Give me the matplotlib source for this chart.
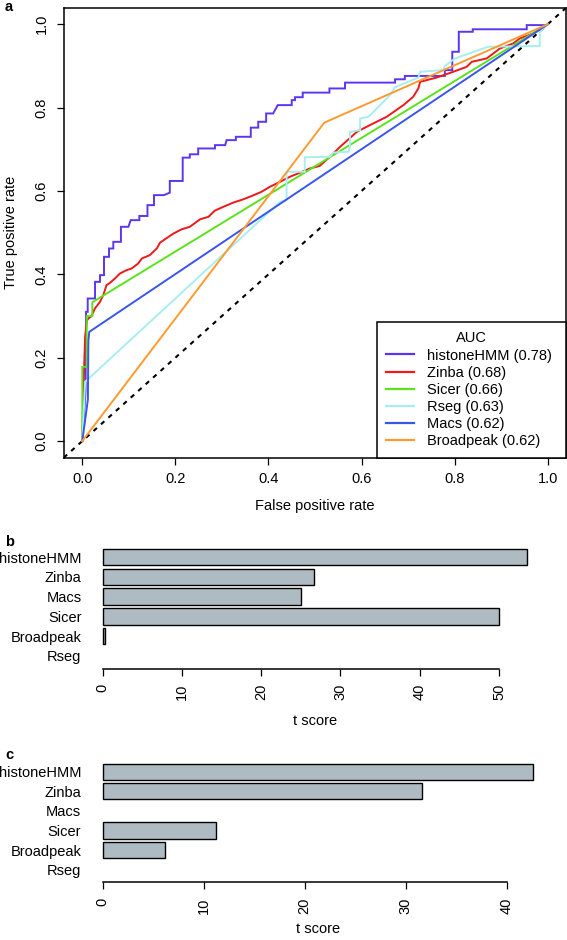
import matplotlib
matplotlib.use("Agg")
import matplotlib.pyplot as plt
from matplotlib.lines import Line2D

plt.rcParams['font.family'] = ['Liberation Sans', 'DejaVu Sans']
FS = 10.5

# ---------------- data ----------------
methods_roc = ["histoneHMM", "Zinba", "Sicer", "Rseg", "Macs", "Broadpeak"]
auc_values = [0.78, 0.68, 0.66, 0.63, 0.62, 0.62]
roc_colors = ["#5B36F2", "#F01818", "#5CE21C", "#A8EEF0", "#3A55EE", "#FF9A30"]

histone_fpr = [0, 0.007, 0.008, 0.0116, 0.0116, 0.0273, 0.0273, 0.038, 0.038, 0.0466, 0.0466, 0.0574,
               0.0574, 0.0666, 0.0666, 0.083, 0.083, 0.099, 0.104, 0.1225, 0.1225, 0.14, 0.14, 0.154,
               0.154, 0.1755, 0.188, 0.188, 0.2157, 0.2157, 0.231, 0.231, 0.249, 0.249, 0.285, 0.285,
               0.307, 0.31, 0.33, 0.33, 0.362, 0.362, 0.378, 0.378, 0.395, 0.395, 0.41, 0.42, 0.45,
               0.45, 0.457, 0.457, 0.4736, 0.4736, 0.531, 0.531, 0.5645, 0.5645, 0.672, 0.672, 0.693,
               0.693, 0.779, 0.779, 0.795, 0.795, 0.809, 0.809, 0.839, 0.839, 0.955, 0.955, 0.998, 1.0]
histone_tpr = [0, 0.12, 0.31, 0.31, 0.342, 0.342, 0.382, 0.382, 0.398, 0.398, 0.442, 0.442,
               0.462, 0.462, 0.478, 0.478, 0.514, 0.514, 0.530, 0.530, 0.54, 0.54, 0.566, 0.566,
               0.590, 0.590, 0.596, 0.624, 0.624, 0.680, 0.680, 0.688, 0.688, 0.702, 0.702, 0.710,
               0.710, 0.722, 0.722, 0.730, 0.730, 0.752, 0.752, 0.766, 0.766, 0.786, 0.786, 0.806, 0.806,
               0.818, 0.818, 0.825, 0.825, 0.836, 0.836, 0.846, 0.846, 0.86, 0.86, 0.868, 0.868,
               0.876, 0.876, 0.89, 0.89, 0.934, 0.934, 0.982, 0.982, 0.988, 0.988, 0.998, 0.998, 1.0]

zinba_fpr = [0, 0.002, 0.006, 0.010, 0.013, 0.020, 0.027, 0.038, 0.045, 0.052, 0.060, 0.070, 0.081,
             0.095, 0.106, 0.120, 0.128, 0.145, 0.160, 0.167, 0.180, 0.196, 0.2135, 0.231, 0.253,
             0.271, 0.285, 0.303, 0.324, 0.346, 0.364, 0.385, 0.403, 0.425, 0.446, 0.468, 0.489,
             0.510, 0.532, 0.554, 0.590, 0.618, 0.654, 0.690, 0.711, 0.722, 0.726, 0.761, 0.797,
             0.826, 0.837, 0.869, 0.8975, 0.926, 0.940, 0.969, 0.998, 1.0]
zinba_tpr = [0, 0.11, 0.25, 0.29, 0.294, 0.300, 0.318, 0.334, 0.350, 0.374, 0.380, 0.390, 0.402,
             0.410, 0.414, 0.426, 0.438, 0.446, 0.462, 0.476, 0.486, 0.498, 0.508, 0.514, 0.532,
             0.538, 0.553, 0.562, 0.572, 0.580, 0.588, 0.598, 0.610, 0.622, 0.634, 0.644, 0.654,
             0.660, 0.682, 0.706, 0.742, 0.758, 0.778, 0.806, 0.826, 0.846, 0.862, 0.872, 0.886,
             0.898, 0.910, 0.918, 0.942, 0.954, 0.966, 0.978, 0.998, 1.0]

sicer_fpr = [0, 0, 0.0095, 0.0095, 0.0215, 0.0215, 1.0]
sicer_tpr = [0, 0.178, 0.178, 0.300, 0.300, 0.333, 1.0]

rseg_fpr = [0, 0.006, 0.425, 0.439, 0.439, 0.478, 0.478, 0.532, 0.539, 0.572, 0.575, 0.575, 0.597,
            0.597, 0.615, 0.640, 0.661, 0.672, 0.722, 0.726, 0.776, 0.779, 0.801, 0.872, 0.983,
            0.983, 0.998, 1.0]
rseg_tpr = [0, 0.142, 0.574, 0.578, 0.646, 0.646, 0.681, 0.682, 0.692, 0.694, 0.706, 0.742, 0.746,
            0.774, 0.778, 0.806, 0.830, 0.849, 0.872, 0.886, 0.890, 0.900, 0.918, 0.946, 0.948,
            0.982, 0.998, 1.0]

macs_fpr = [0, 0.012, 0.013, 0.015, 1.0]
macs_tpr = [0, 0.10, 0.24, 0.262, 1.0]

broadpeak_fpr = [0, 0.52, 1.0]
broadpeak_tpr = [0, 0.764, 1.0]

bar_methods = ["histoneHMM", "Zinba", "Macs", "Sicer", "Broadpeak", "Rseg"]
tscore_b = [53.5, 26.6, 25.0, 50.0, 0.3, 0.0]
tscore_c = [42.6, 31.6, 0.0, 11.2, 6.2, 0.0]
ticks_b = [0, 10, 20, 30, 40, 50]
ticks_c = [0, 10, 20, 30, 40]

# ---------------- figure ----------------
W, H = 567, 940
fig = plt.figure(figsize=(W / 100, H / 100), dpi=100)


def px_axes(x0, y0, x1, y1):
    return fig.add_axes([x0 / W, 1 - y1 / H, (x1 - x0) / W, (y1 - y0) / H])


# Panel a: ROC
ax = px_axes(63.7, 7.6, 566.3, 457.7)
curves = {
    "histoneHMM": (histone_fpr, histone_tpr),
    "Zinba": (zinba_fpr, zinba_tpr),
    "Sicer": (sicer_fpr, sicer_tpr),
    "Rseg": (rseg_fpr, rseg_tpr),
    "Macs": (macs_fpr, macs_tpr),
    "Broadpeak": (broadpeak_fpr, broadpeak_tpr),
}
draw_order = ["Broadpeak", "Macs", "Rseg", "Sicer", "Zinba", "histoneHMM"]
for name in draw_order:
    i = methods_roc.index(name)
    fx, ty = curves[name]
    ax.plot(fx, ty, color=roc_colors[i], lw=1.4, solid_joinstyle='miter', zorder=3 + i * 0.01)
ax.axline((0, 0), slope=1, color='black', lw=1.5, linestyle=(0, (2.2, 2.6)), zorder=2)
ax.set_xlim(-0.04, 1.04)
ax.set_ylim(-0.04, 1.04)
ax.set_xticks([0, 0.2, 0.4, 0.6, 0.8, 1.0])
ax.set_yticks([0, 0.2, 0.4, 0.6, 0.8, 1.0])
ax.set_xticklabels(["0.0", "0.2", "0.4", "0.6", "0.8", "1.0"])
ax.set_yticklabels(["0.0", "0.2", "0.4", "0.6", "0.8", "1.0"], rotation=90, va='center')
ax.tick_params(direction='out', length=5, width=0.9, labelsize=FS, pad=5, colors='black')
ax.tick_params(axis='y', pad=6)
for s in ax.spines.values():
    s.set_linewidth(1.1)
ax.set_xlabel("False positive rate", fontsize=FS, labelpad=10)
ax.set_ylabel("True positive rate", fontsize=FS, labelpad=12)

handles = [Line2D([0], [0], color=c, lw=1.6) for c in roc_colors]
labels = [f"{m} ({a:.2f})" for m, a in zip(methods_roc, auc_values)]
leg_left = (376.7 - 63.7) / (566.3 - 63.7)
leg = ax.legend(handles, labels, title="AUC", loc='lower right',
                bbox_to_anchor=(leg_left, 0, 1 - leg_left, 1), mode='expand',
                fontsize=FS, title_fontsize=FS,
                frameon=True, fancybox=False, edgecolor='black', framealpha=1, borderaxespad=0,
                borderpad=0.65, handlelength=1.9, handletextpad=0.9, labelspacing=0.215)
leg.get_frame().set_linewidth(1.1)
leg.set_zorder(10)

fig.text(5 / W, 1 - 7 / H, "a", fontsize=FS, fontweight='bold', ha='left', va='center')


def bar_panel(y0, y1, values, ticks, label, label_y, scale, title_pad):
    vmax = max(values)
    lo, hi = -0.04 * vmax, 1.04 * vmax
    x0 = 102.7 + lo * scale
    x1 = 102.7 + hi * scale
    bx = px_axes(x0, y0, x1, y1)
    n = len(values)
    pos = [0.7 + 1.2 * (n - 1 - k) for k in range(n)]
    lws = [1.0 if v > 0 else 0.0 for v in values]
    bx.barh(pos, values, height=1.0, color="#AFBBC3", edgecolor='black', linewidth=lws)
    bx.set_xlim(lo, hi)
    bx.set_ylim(-0.08, 7.48)
    for sname in ['top', 'right', 'left']:
        bx.spines[sname].set_visible(False)
    bx.spines['bottom'].set_bounds(ticks[0], ticks[-1])
    bx.spines['bottom'].set_linewidth(1.1)
    bx.set_xticks(ticks)
    bx.set_xticklabels([str(t) for t in ticks], rotation=90)
    bx.tick_params(axis='x', direction='out', length=5, width=0.9, labelsize=FS, pad=6)
    bx.set_yticks(pos)
    bx.set_yticklabels(bar_methods)
    bx.tick_params(axis='y', length=0, labelsize=FS, pad=3)
    bx.set_xlabel("t score", fontsize=FS, labelpad=title_pad)
    fig.text(5 / W, 1 - label_y / H, label, fontsize=FS, fontweight='bold', ha='left', va='center')
    return bx


bar_panel(544.5, 668.5, tscore_b, ticks_b, "b", 542, 7.926, 10)
bar_panel(759.0, 882.4, tscore_c, ticks_c, "c", 755, 10.1, 6)

fig.savefig("out.png", dpi=100)
